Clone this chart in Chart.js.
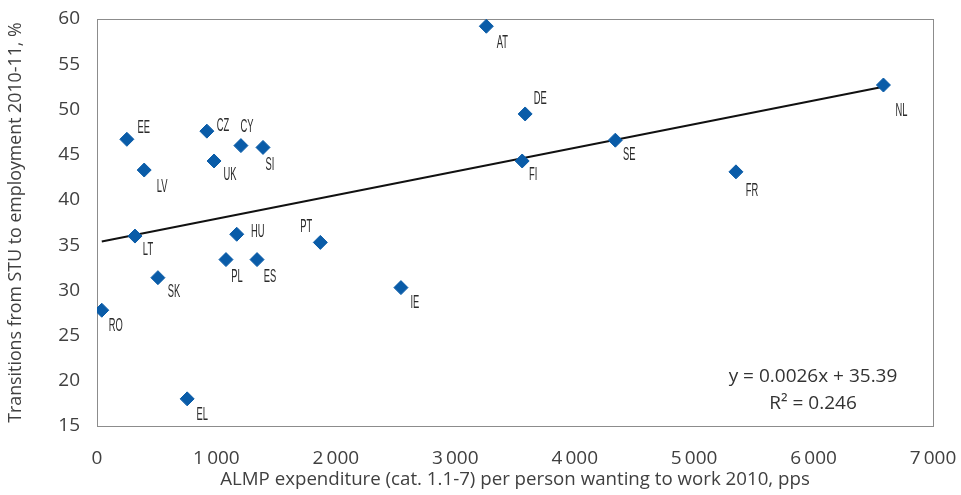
<!DOCTYPE html>
<html>
<head>
<meta charset="utf-8">
<script src="https://cdn.jsdelivr.net/npm/chart.js@4/dist/chart.umd.min.js"></script>
<style>
  body { margin: 0; background: #fff; }
</style>
</head>
<body>
<canvas id="scatterChart" width="961" height="495"></canvas>
<script>
const countries = ["RO", "EE", "LV", "LT", "SK", "EL", "CZ", "UK", "PL", "HU", "CY", "ES", "SI", "PT", "IE", "AT", "FI", "DE", "SE", "FR", "NL"];
const almpSpend = [40, 250, 395, 318, 510, 755, 920, 980, 1080, 1170, 1205, 1340, 1390, 1870, 2545, 3260, 3560, 3585, 4340, 5350, 6585];
const transitions = [27.8, 46.7, 43.3, 36.0, 31.4, 18.0, 47.6, 44.3, 33.4, 36.2, 46.0, 33.4, 45.8, 35.3, 30.3, 59.2, 44.3, 49.5, 46.6, 43.1, 52.7];

const trendX = [40, 6585];
const trendY = [35.4, 52.5];

const xTicks = [0, 1000, 2000, 3000, 4000, 5000, 6000, 7000];
const yTicks = [15, 20, 25, 30, 35, 40, 45, 50, 55, 60];

const equationText = "y = 0.0026x + 35.39";
const rSquaredText = "R² = 0.246";

// label offsets from the marker centre, px
const labelOffsets = {
    RO: [14, 16], EE: [17, -11], LV: [18, 17], LT: [13, 14], SK: [16, 14],
    EL: [15, 16], CZ: [16, -5], UK: [16, 14], PL: [11, 17], HU: [21, -2],
    CY: [6, -19], ES: [13, 17], SI: [7, 18], PT: [-14, -15], IE: [14, 15],
    AT: [16, 17], FI: [11, 14], DE: [15, -15], SE: [14, 15], FR: [16, 19],
    NL: [18, 26]
};

const points = almpSpend.map((x, i) => ({ x: x, y: transitions[i] }));
const trendPoints = trendX.map((x, i) => ({ x: x, y: trendY[i] }));

function formatThousands(v) {
    const s = String(v);
    return s.length > 3 ? s.slice(0, -3) + "\u2009" + s.slice(-3) : s;
}

const decorPlugin = {
    id: "decor",
    beforeDatasetsDraw(chart) {
        const { ctx, chartArea } = chart;
        ctx.save();
        ctx.strokeStyle = "#8c8c8c";
        ctx.lineWidth = 1;
        ctx.strokeRect(Math.round(chartArea.left) + 0.5, Math.round(chartArea.top) + 0.5,
            Math.round(chartArea.right - chartArea.left), Math.round(chartArea.bottom - chartArea.top));
        ctx.restore();
    },
    afterDatasetsDraw(chart) {
        const { ctx, chartArea } = chart;
        const meta = chart.getDatasetMeta(1);
        ctx.save();
        ctx.fillStyle = "#2b2b2b";
        ctx.textAlign = "center";
        ctx.textBaseline = "middle";
        ctx.font = "18px 'Liberation Sans'";
        meta.data.forEach((el, i) => {
            const code = countries[i];
            const off = labelOffsets[code];
            ctx.save();
            ctx.translate(el.x + off[0], el.y + off[1]);
            ctx.scale(0.52, 1);
            ctx.fillText(code, 0, 0);
            ctx.restore();
        });

        ctx.font = "19px 'Open Sans'";
        ctx.fillStyle = "#333";
        ctx.fillText(equationText, chartArea.right - 120, chartArea.bottom - 49);
        ctx.fillText(rSquaredText, chartArea.right - 120, chartArea.bottom - 22);
        ctx.restore();
    }
};

new Chart(document.getElementById("scatterChart"), {
    type: "scatter",
    data: {
        datasets: [
            {
                type: "line",
                data: trendPoints,
                borderColor: "#111",
                borderWidth: 2,
                pointRadius: 0,
                fill: false,
                order: 2
            },
            {
                data: points,
                backgroundColor: "#0a5ca8",
                borderColor: "#0a5ca8",
                pointStyle: "rectRot",
                pointRadius: 7,
                pointHoverRadius: 7,
                order: 1
            }
        ]
    },
    options: {
        responsive: false,
        animation: false,
        layout: { padding: { top: 19, right: 28, left: 0, bottom: 0 } },
        plugins: {
            legend: { display: false },
            tooltip: { enabled: false }
        },
        scales: {
            x: {
                type: "linear",
                min: 0,
                max: 7000,
                afterBuildTicks: (axis) => { axis.ticks = xTicks.map(v => ({ value: v })); },
                afterFit: (axis) => {
                    axis.height = 69;
                    axis.paddingLeft = 0;
                    axis.paddingRight = 0;
                },
                grid: { display: false, drawTicks: false },
                border: { display: false },
                ticks: {
                    padding: 21,
                    color: "#404040",
                    font: { family: "'Open Sans'", size: 19 },
                    callback: (v) => formatThousands(v)
                },
                title: {
                    display: true,
                    text: "ALMP expenditure (cat. 1.1-7) per person wanting to work 2010, pps",
                    color: "#404040",
                    font: { family: "'Open Sans'", size: 18.7 },
                    padding: { top: 0, bottom: 4 }
                }
            },
            y: {
                type: "linear",
                min: 15,
                max: 60,
                afterBuildTicks: (axis) => { axis.ticks = yTicks.map(v => ({ value: v })); },
                afterFit: (axis) => {
                    axis.width = 97;
                    axis.paddingTop = 0;
                    axis.paddingBottom = 0;
                },
                grid: { display: false, drawTicks: false },
                border: { display: false },
                ticks: {
                    padding: 17,
                    color: "#404040",
                    font: { family: "'Open Sans'", size: 19 }
                },
                title: {
                    display: true,
                    text: "Transitions from STU to employment 2010-11, %",
                    color: "#404040",
                    font: { family: "'Open Sans'", size: 17.8 },
                    padding: { top: 5, bottom: 0 }
                }
            }
        }
    },
    plugins: [decorPlugin]
});
</script>
</body>
</html>
